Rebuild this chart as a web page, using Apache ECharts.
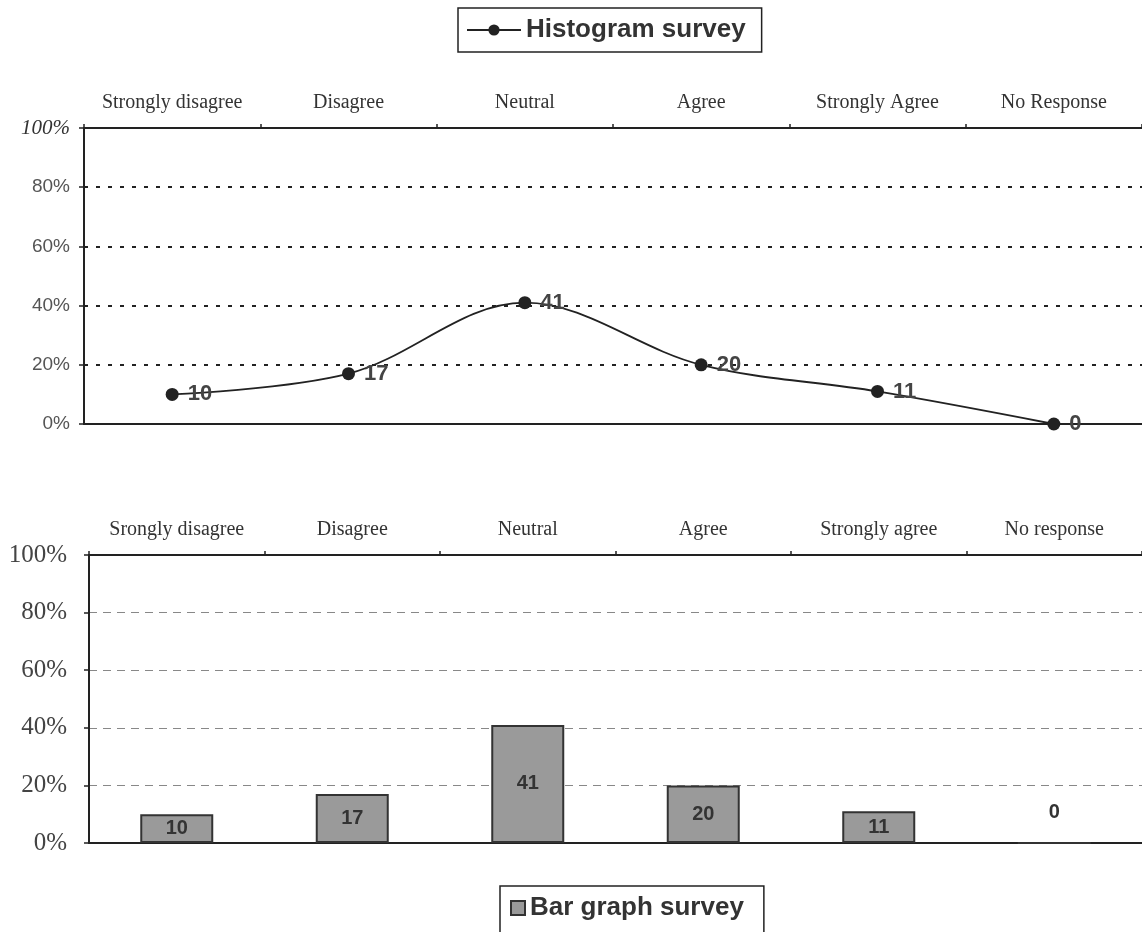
<!DOCTYPE html>
<html>
<head>
<meta charset="utf-8">
<script src="https://cdn.jsdelivr.net/npm/echarts@6/dist/echarts.min.js"></script>
<style>
  html, body { margin: 0; padding: 0; background: #fff; }
  #chart { width: 1142px; height: 932px; }
</style>
</head>
<body>
<div id="chart"></div>
<script>
// Survey responses, percent of respondents per answer
const lineCategories = ['Strongly disagree', 'Disagree', 'Neutral', 'Agree', 'Strongly Agree', 'No Response'];
const barCategories = ['Srongly disagree', 'Disagree', 'Neutral', 'Agree', 'Strongly agree', 'No response'];
const histogramValues = [10, 17, 41, 20, 11, 0];
const barValues = [10, 17, 41, 20, 11, 0];
const yTicks = [0, 20, 40, 60, 80, 100];

const chart = echarts.init(document.getElementById('chart'));

const serif = '"Liberation Serif", "DejaVu Serif", serif';
const sans = '"Liberation Sans", Arial, sans-serif';

function yAxisFor(gridIndex, topStyle) {
  return {
    gridIndex: gridIndex,
    type: 'value',
    min: yTicks[0],
    max: yTicks[yTicks.length - 1],
    interval: 20,
    axisLine: { show: true, lineStyle: { color: '#222', width: 2 } },
    axisTick: { show: true, length: 5, inside: false, lineStyle: { color: '#222', width: 1.5 } },
    splitLine: topStyle
      ? { show: true, lineStyle: { color: '#222', type: [4, 8], width: 2 } }
      : { show: true, lineStyle: { color: '#888', type: [8, 6], width: 1 } },
    axisLabel: topStyle
      ? {
          margin: 14,
          formatter: v => v === 100 ? '{it|' + v + '%}' : '{n|' + v + '%}',
          rich: {
            it: { fontFamily: serif, fontStyle: 'italic', fontSize: 21, color: '#333' },
            n: { fontFamily: sans, fontSize: 19, color: '#555' }
          }
        }
      : { margin: 22, fontFamily: serif, fontSize: 25, color: '#444', formatter: '{value}%' }
  };
}

function topAxis(gridIndex, cats) {
  return {
    gridIndex: gridIndex,
    type: 'category',
    position: 'top',
    data: cats,
    boundaryGap: true,
    axisLine: { show: true, onZero: false, lineStyle: { color: '#222', width: 2 } },
    axisTick: { show: true, length: 4, lineStyle: { color: '#222', width: 1.5 } },
    axisLabel: { margin: 15, fontFamily: serif, fontSize: 20, color: '#333', interval: 0 }
  };
}

function baseAxis(gridIndex, cats) {
  return {
    gridIndex: gridIndex,
    type: 'category',
    position: 'bottom',
    data: cats,
    axisLine: { show: true, onZero: false, lineStyle: { color: '#222', width: 2 } },
    axisTick: { show: false },
    axisLabel: { show: false }
  };
}

const option = {
  backgroundColor: '#fff',
  animation: false,
  legend: [
    {
      data: [{ name: 'Histogram survey' }],
      top: 8,
      left: 458,
      padding: [9, 16, 9, 8],
      borderColor: '#222',
      borderWidth: 1.5,
      itemWidth: 54,
      itemHeight: 14,
      itemGap: 8,
      textStyle: { fontFamily: sans, fontWeight: 'bold', fontSize: 26, color: '#333' }
    },
    {
      data: [{ name: 'Bar graph survey', icon: 'rect' }],
      top: 886,
      left: 500,
      padding: [9, 20, 12, 10],
      borderColor: '#222',
      borderWidth: 1.5,
      itemWidth: 14,
      itemHeight: 14,
      itemGap: 8,
      textStyle: { fontFamily: sans, fontWeight: 'bold', fontSize: 26, color: '#333' }
    }
  ],
  grid: [
    { left: 84, top: 128, width: 1062, height: 296 },
    { left: 89, top: 555, width: 1060, height: 288 }
  ],
  xAxis: [
    topAxis(0, lineCategories),
    baseAxis(0, lineCategories),
    topAxis(1, barCategories),
    baseAxis(1, barCategories)
  ],
  yAxis: [yAxisFor(0, true), yAxisFor(1, false)],
  series: [
    {
      name: 'Histogram survey',
      type: 'line',
      xAxisIndex: 0,
      yAxisIndex: 0,
      data: histogramValues,
      smooth: 0.35,
      symbol: 'circle',
      symbolSize: 13,
      lineStyle: { color: '#222', width: 1.8 },
      itemStyle: { color: '#222' },
      label: {
        show: true,
        position: 'right',
        distance: 9,
        fontFamily: sans,
        fontWeight: 'bold',
        fontSize: 22,
        color: '#444'
      },
      z: 5
    },
    {
      name: 'Bar graph survey',
      type: 'bar',
      xAxisIndex: 2,
      yAxisIndex: 1,
      data: barValues.map(v => v === 0
        ? { value: v, label: { position: 'top', distance: 20 } }
        : v),
      barWidth: 73,
      itemStyle: { color: '#9a9a9a', borderColor: '#333', borderWidth: 2 },
      label: {
        show: true,
        position: 'inside',
        fontFamily: sans,
        fontWeight: 'bold',
        fontSize: 20,
        color: '#333'
      }
    }
  ]
};

chart.setOption(option);
</script>
</body>
</html>
